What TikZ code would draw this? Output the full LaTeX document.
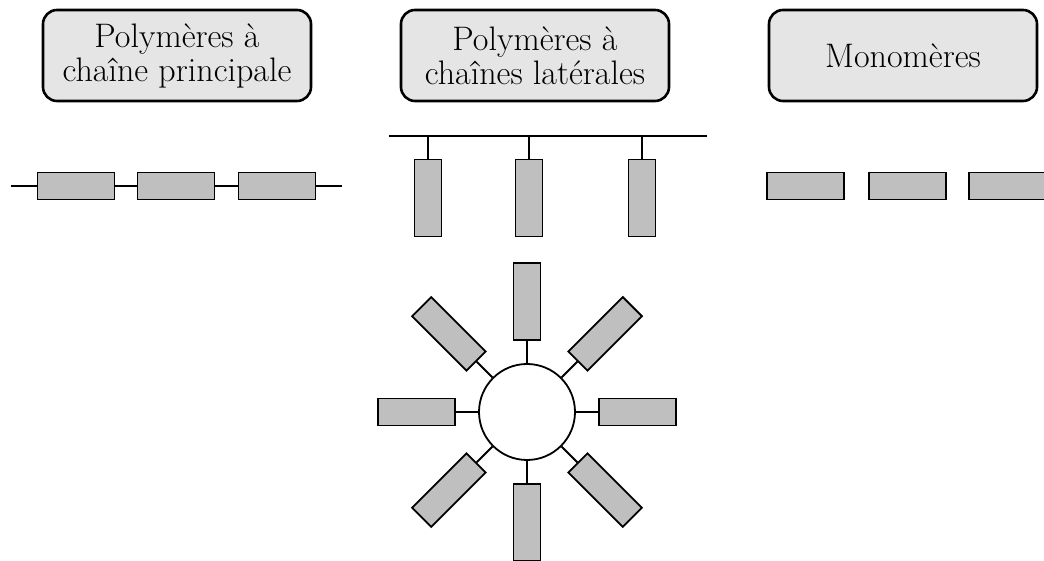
\documentclass[tikz,border=0pt]{standalone}
\usetikzlibrary{calc}
\tikzset{
	titre/.style={draw,line width=2.6pt,rounded corners=14pt,fill=gray!20,minimum width=268pt,minimum height=91pt,align=center,font=\fontsize{34}{34}\selectfont},
	motif/.style={draw,line width=1.8pt,fill=gray!50,minimum width=77pt,minimum height=27pt,inner sep=0pt},
	lien/.style={line width=1.8pt}
}
\begin{document}
\begin{tikzpicture}[x=1pt,y=1pt]
			\useasboundingbox (0,0) rectangle (1044,561);
			% titres
			\node[titre] (t1) at (177,505.5) {Polymères à\\chaîne principale};
			\node[titre] (t2) at (535,505.5) {Polymères à\\chaînes latérales};
			\node[titre] (t3) at (903,505.5) {Monomères};
			% chaine principale
			\coordinate (pg) at (11,375);
			\coordinate (pd) at (342,375);
			\foreach \n/\x in {1/76,2/176,3/277}
			\node[motif] (p\n) at (\x,375) {};
			\draw[lien] (pg)--(p1)--(p2)--(p3)--(pd);
			% chaines laterales
			\coordinate (lg) at (389,425);
			\coordinate (ld) at (707,425);
			\draw[lien] (lg)--(ld);
			\foreach \n/\x in {1/428,2/529,3/642} {
			\node[motif,rotate=90] (l\n) at (\x,363) {};
			\coordinate (b\n) at (\x,425);
			\draw[lien] (b\n)--(l\n);
			}
			% monomeres
			\foreach \n/\x in {1/805.5,2/907.5,3/1007.5}
			\node[motif] (m\n) at (\x,375) {};
			% etoile
			\node[draw,circle,line width=1.8pt,minimum size=96pt,inner sep=0pt] (c) at (527,149) {};
			\foreach \a in {0,45,...,315} {
			\node[motif,rotate=\a] (e\a) at ($(c.center)+(\a:110.5)$) {};
			\draw[lien] (c.\a)--(e\a);
			}
	\end{tikzpicture}
\end{document}
